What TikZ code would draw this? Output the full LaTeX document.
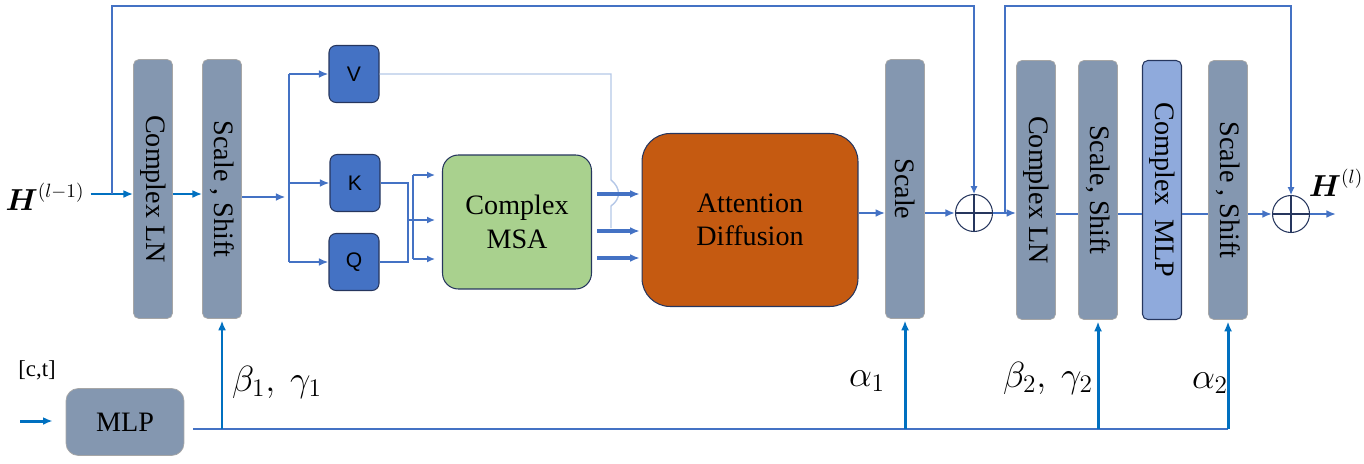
\documentclass[tikz,border=0pt]{standalone}
\usepackage{amsmath}
\usepackage{amssymb}
\usepackage{xcolor}
\usepackage{graphicx}
\usepackage{fontspec}
\setmainfont{Liberation Serif}
\newfontfamily\qkvfont{Liberation Sans}
\usepackage{tikz}
\usetikzlibrary{arrows.meta}
\definecolor{barfill}{HTML}{8497B0}
\definecolor{barline}{HTML}{A6A6A6}
\definecolor{qkvfill}{HTML}{4472C4}
\definecolor{msafill}{HTML}{A9D18E}
\definecolor{adfill}{HTML}{C55A11}
\definecolor{mlpfill}{HTML}{8FAADC}
\definecolor{navy}{HTML}{26365E}
\definecolor{flowblue}{HTML}{4472C4}
\definecolor{feedblue}{HTML}{0070C0}
\definecolor{paleblue}{HTML}{B4C7E7}

\begin{document}
\begin{tikzpicture}[x=0.02cm, y=-0.02cm, >={Latex[length=5.5pt,width=4.5pt]},
  every node/.style={font=\fontsize{16}{19}\selectfont, text=black},
  bar/.style={rectangle, rounded corners=3pt, draw=barline, line width=0.4pt, fill=barfill, minimum width=0.78cm, minimum height=5.18cm, inner sep=0pt},
  qkv/.style={rectangle, rounded corners=4pt, draw=navy, line width=0.6pt, fill=qkvfill, minimum width=1cm, minimum height=1.14cm, font=\qkvfont\fontsize{12}{14}\selectfont},
  block/.style={rectangle, draw=navy, line width=0.6pt, align=center, inner sep=0pt},
  sum/.style={circle, draw=navy, line width=0.6pt, minimum size=0.74cm, inner sep=0pt},
  lab/.style={font=\fontsize{20}{22}\selectfont},
  flow/.style={draw=flowblue, line width=1.6pt},
  branch/.style={draw=flowblue, line width=1.1pt},
  fat/.style={draw=flowblue, line width=2pt, shorten <=3pt, shorten >=1pt},
  link/.style={draw=flowblue, line width=0.8pt, >={Latex[length=4.5pt,width=4pt]}},
  feed/.style={draw=feedblue, line width=1.7pt},
  skip/.style={draw=flowblue, line width=0.6pt, >={Latex[length=4.5pt,width=4pt]}},
  vline/.style={draw=paleblue, line width=0.8pt}]
  \useasboundingbox (0,0) rectangle (1364,463);
  % points on the paths
  \coordinate (split) at (112,194);
  \coordinate (fork) at (289,197);
  \coordinate (kq) at (408,0);
  \coordinate (ins) at (413,0);
  \coordinate (vj) at (611,74);
  \coordinate (vend) at (611,228);
  \coordinate (split2) at (1005,213);
  \coordinate (top) at (0,6);
  \coordinate (bus) at (0,429);
  \coordinate (cin) at (20,421);
  \coordinate (hend) at (1336,214);
  % blocks
  \node (hin) at (45,197) {$\boldsymbol{H}^{(l-1)}$};
  \node[bar] (ln1) at (153,189) {\rotatebox{-90}{Complex LN}};
  \node[bar] (ss1) at (222,189) {\rotatebox{-90}{Scale , Shift}};
  \node[qkv] (v) at (354,74) {V};
  \node[qkv] (k) at (355,183) {K};
  \node[qkv] (q) at (354,262) {Q};
  \node[block, fill=msafill, rounded corners=9pt, minimum width=2.98cm, minimum height=2.68cm] (msa) at (517,222) {Complex\\MSA};
  \node[block, fill=adfill, rounded corners=16pt, minimum width=4.32cm, minimum height=3.46cm] (ad) at (750,220) {Attention\\Diffusion};
  \node[bar] (sc) at (905,189) {\rotatebox{-90}{Scale}};
  \node[sum] (add1) at (974,213) {};
  \node[bar] (ln2) at (1036,190) {\rotatebox{-90}{Complex LN}};
  \node[bar] (ss2) at (1098,190) {\rotatebox{-90}{Scale, Shift}};
  \node[bar, draw=navy, line width=0.6pt, fill=mlpfill] (mlp2) at (1162,190) {\rotatebox{-90}{Complex\ \ MLP}};
  \node[bar] (ss3) at (1228,190) {\rotatebox{-90}{Scale , Shift}};
  \node[sum] (add2) at (1291,214) {};
  \node (hout) at (1336,183) {$\boldsymbol{H}^{(l)}$};
  \node[font=\fontsize{13}{15}\selectfont] (ct) at (37,370) {[c,t]};
  \node[bar, rounded corners=7pt, minimum width=2.36cm, minimum height=1.34cm] (mlp) at (125,422) {MLP};
  \node[lab] (bg1) at (277,382) {$\beta_1,\ \gamma_1$};
  \node[lab] (al1) at (867,381) {$\alpha_1$};
  \node[lab] (bg2) at (1048,378) {$\beta_2,\ \gamma_2$};
  \node[lab] (al2) at (1210,383) {$\alpha_2$};
  \foreach \s in {add1,add2}
    \draw[navy, line width=0.6pt] (\s.north) -- (\s.south) (\s.west) -- (\s.east);
  % attention branch
  \draw[feed,->] (hin.east |- split) -- (ln1.west |- split);
  \draw[feed,->] (ln1.east |- split) -- (ss1.west |- split);
  \draw[flow,->, shorten >=2pt] (ss1.east |- fork) -- (fork);
  \draw[branch] (fork |- v) -- (fork |- q);
  \foreach \n in {v,k,q}
    \draw[branch,->] (fork |- \n) -- (\n.west);
  \draw[link] (k.east) -| (kq |- q.east) -- (q.east);
  \draw[link] (ins |- 0,175) -- (ins |- 0,259);
  \foreach \y in {175,259}
    \draw[link,->, shorten >=4pt] (ins |- 0,\y) -- (msa.west |- 0,\y);
  \draw[link,->, shorten >=4pt] (kq |- 0,220) -- (msa.west |- 0,220);
  \draw[vline] (v.east) -- (vj) -- (611,180) .. controls (621,188) and (621,199) .. (611,206) -- (vend);
  \foreach \y in {194,231,258}
    \draw[fat,->] (msa.east |- 0,\y) -- (ad.west |- 0,\y);
  \draw[flow,->] (ad.east |- add1) -- (sc.west |- add1);
  \draw[flow,->] (sc.east |- add1) -- (add1.west);
  \draw[skip,->] (split) |- (add1 |- top) -- (add1.north);
  % mlp branch
  \draw[flow,->] (add1.east) -- (ln2.west |- add1);
  \draw[skip,->] (split2) |- (add2 |- top) -- (add2.north);
  \draw[flow] (ln2.east |- add2) -- (ss2.west |- add2) (ss2.east |- add2) -- (mlp2.west |- add2) (mlp2.east |- add2) -- (ss3.west |- add2);
  \draw[flow,->] (ss3.east |- add2) -- (add2.west);
  \draw[flow,->] (add2.east) -- (hend);
  % conditioning
  \draw[feed,->, shorten >=0.26cm] (cin) -- (mlp.west |- cin);
  \draw[skip, line width=0.8pt, shorten <=0.18cm] (mlp.east |- bus) -- (ss3 |- bus);
  \foreach \n in {ss1,sc,ss2,ss3}
    \draw[feed,->, shorten >=1pt] (\n |- bus) -- (\n.south);
\end{tikzpicture}
\end{document}
